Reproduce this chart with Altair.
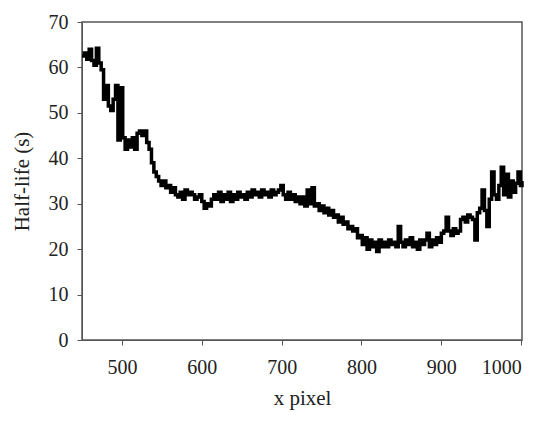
import altair as alt
import pandas as pd

x_px = [450 + 3 * i for i in range(184)] + [1001]
half_life = [
    62.5, 63.2, 61.8, 64.0, 61.5, 60.5, 64.2, 61.0, 59.5, 53.0,
    56.0, 51.5, 50.5, 53.0, 56.0, 44.0, 55.5, 44.5, 42.0, 44.0,
    42.5, 44.5, 42.0, 45.5, 46.0, 45.0, 46.0, 43.5, 42.0, 39.0,
    37.0, 36.0, 35.0, 34.0, 35.0, 33.5, 34.0, 32.5, 33.5, 32.0,
    31.5, 32.5, 31.0, 33.0, 32.0, 32.5, 32.0, 31.0, 31.5, 32.0,
    30.5, 29.0, 30.0, 29.5, 31.0, 32.0, 31.0, 32.5, 30.5, 32.0,
    31.0, 32.5, 30.5, 32.0, 31.0, 32.5, 31.5, 32.0, 31.0, 32.5,
    31.5, 33.0, 32.0, 32.5, 31.5, 33.0, 32.0, 32.5, 31.5, 33.0,
    32.0, 32.5, 33.0, 34.0, 32.0, 31.0, 32.5, 31.0, 32.0, 30.5,
    31.5, 30.0, 31.5, 29.5, 33.0, 30.0, 33.5, 29.5, 30.0, 28.5,
    29.5, 28.0, 29.0, 27.5, 28.5, 27.0, 27.5, 26.0, 27.0, 25.5,
    26.0, 24.5, 25.0, 24.0, 24.5, 22.5, 23.0, 21.0, 22.5, 20.0,
    22.0, 20.5, 21.5, 19.5, 22.0, 20.5, 21.5, 20.5, 22.0, 21.0,
    21.5, 20.5, 25.0, 21.5, 20.5, 22.0, 21.0, 22.5, 20.5, 21.5,
    20.0, 22.0, 21.0, 22.0, 23.5, 20.5, 22.0, 21.0, 22.5, 21.5,
    23.5, 24.0, 27.0, 24.0, 23.0, 24.5, 23.5, 24.0, 26.5, 27.0,
    26.0, 27.5, 27.0, 26.5, 22.0, 28.0, 29.0, 33.0, 28.5, 25.0,
    31.0, 37.0, 32.0, 31.0, 34.0, 38.0, 32.0, 36.5, 31.5, 35.0,
    32.5, 34.5, 37.0, 34.0, 35.0,
]

df = pd.DataFrame({"x": x_px, "y": half_life})

font = "Liberation Serif, Times New Roman, serif"

chart = alt.Chart(df).mark_line(
    color="black", strokeWidth=3.5, interpolate="step-after"
).encode(
    x=alt.X("x:Q", title="x pixel",
            scale=alt.Scale(domain=[450, 1001], nice=False, zero=False),
            axis=alt.Axis(values=[500, 600, 700, 800, 900, 1000], format="d", grid=False,
                          labelFont=font, labelFontSize=20, labelColor="#222",
                          titleFont=font, titleFontSize=21, titleFontWeight="normal",
                          titleColor="#222", labelPadding=12, titlePadding=10,
                          tickSize=5, domainColor="#555", tickColor="#555")),
    y=alt.Y("y:Q", title="Half-life (s)",
            scale=alt.Scale(domain=[0, 70], nice=False),
            axis=alt.Axis(values=[0, 10, 20, 30, 40, 50, 60, 70], grid=False,
                          labelFont=font, labelFontSize=20, labelColor="#222",
                          titleFont=font, titleFontSize=21, titleFontWeight="normal",
                          titleColor="#222", labelPadding=9, titlePadding=16,
                          tickSize=5, domainColor="#555", tickColor="#555")),
).properties(
    width=440, height=318,
    autosize=alt.AutoSizeParams(type="none"),
    padding={"left": 74, "top": 14, "right": 20, "bottom": 80},
).configure_view(stroke="#555", strokeWidth=1.5)

chart.save("out.html", embed_options={"renderer": "svg", "actions": False})
